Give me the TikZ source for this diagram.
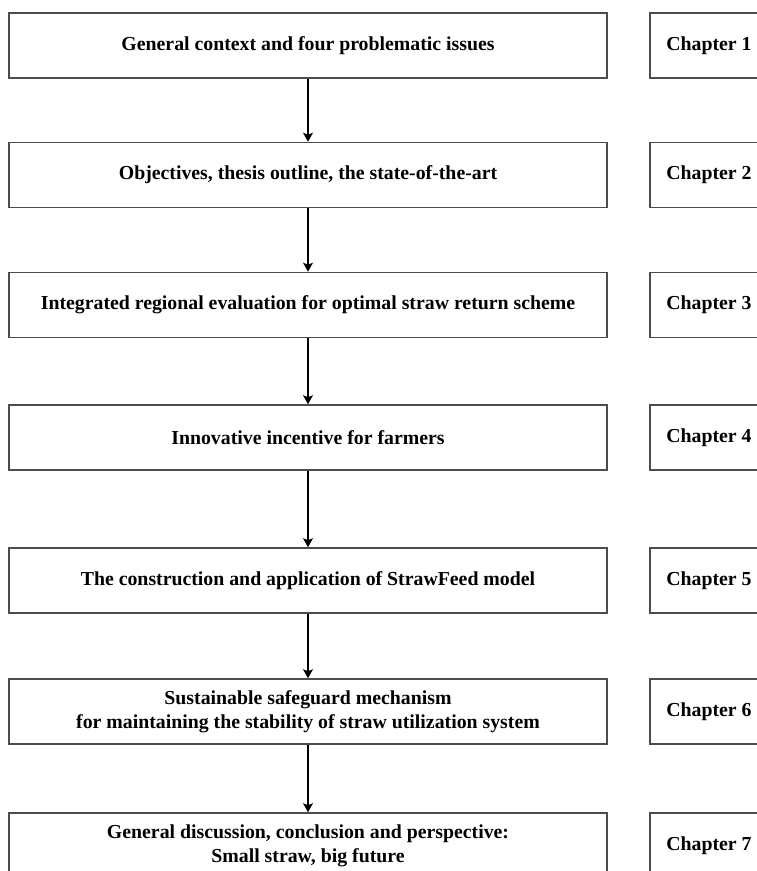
\documentclass[tikz,border=0pt]{standalone}
\usepackage{fontspec}
\setmainfont{Liberation Serif}
\usetikzlibrary{arrows.meta,positioning}
\tikzset{
  mainbox/.style={rectangle, draw=black!70, line width=0.8pt, minimum width=299pt, minimum height=32.5pt, align=center, inner sep=2pt, font=\bfseries\fontsize{9.9}{12}\selectfont},
  chapbox/.style={mainbox, minimum width=59pt},
  arrow/.style={-{Stealth[length=4.5pt, width=5pt, inset=1pt]}, line width=0.6pt},
}

\begin{document}
\begin{tikzpicture}[x=0.5pt, y=-0.5pt]
  \useasboundingbox (0,0) rectangle (756,871);

  % Thesis parts and their chapters
  \foreach \i/\y/\txt in {1/45.5/{General context and four problematic issues},
                          2/175/{Objectives, thesis outline, the state-of-the-art},
                          3/305/{Integrated regional evaluation for optimal straw return scheme},
                          4/437.5/{Innovative incentive for farmers},
                          5/580.5/{The construction and application of StrawFeed model},
                          6/711.5/{Sustainable safeguard mechanism\\for maintaining the stability of straw utilization system},
                          7/845.5/{General discussion, conclusion and perspective:\\Small straw, big future}} {
    \node[mainbox] (m\i) at (308,\y) {\txt};
    \node[chapbox] (c\i) at (709,\y) {Chapter \i};
  }

  % Flow from part to part
  \foreach \i [evaluate=\i as \j using int(\i+1)] in {1,...,6}
    \draw[arrow] (m\i) -- (m\j);

\end{tikzpicture}
\end{document}
